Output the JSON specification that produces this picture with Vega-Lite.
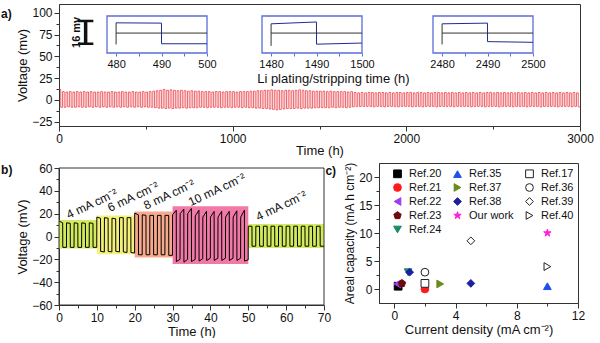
{
"$schema": "https://vega.github.io/schema/vega-lite/v6.json",
"padding": {"left": 0, "top": 3, "right": 0, "bottom": 0},
"background": "white",
"spacing": 3,
"resolve": {"scale": {"color": "independent", "shape": "independent", "fill": "independent", "stroke": "independent", "size": "independent"}, "legend": {"color": "independent", "shape": "independent", "fill": "independent", "stroke": "independent", "size": "independent"}},
"config": {
  "font": "Liberation Sans",
  "view": {"stroke": "#333", "strokeWidth": 1},
  "axis": {"grid": false, "labelFont": "Liberation Sans", "titleFont": "Liberation Sans", "labelFontSize": 12, "titleFontSize": 13, "titleFontWeight": "normal", "labelColor": "#111", "titleColor": "#111", "tickColor": "#333", "domainColor": "#333", "labelPadding": 2, "titlePadding": 2, "labelFlush": false, "format": "d"},
  "text": {"font": "Liberation Sans", "color": "#111"}
},
"vconcat": [
{
  "width": 521, "height": 122,
  "resolve": {"scale": {"x": "independent", "y": "independent"}, "axis": {"x": "independent", "y": "independent"}},
  "layer": [
    {
      "encoding": {
        "x": {"field": "t", "type": "quantitative", "scale": {"domain": [0, 3000], "nice": false, "zero": false},
              "axis": {"title": "Time (h)", "titlePadding": 0, "values": [0,500,1000,1500,2000,2500,3000], "labelExpr": "datum.value % 1000 === 0 ? datum.label : ''", "tickSize": {"condition": {"test": "datum.value % 1000 === 0", "value": 5}, "value": 3}}},
        "y": {"field": "v", "type": "quantitative", "scale": {"domain": [-30, 110], "nice": false, "zero": false},
              "axis": {"title": "Voltage (mv)", "values": [-25,-12.5,0,12.5,25,37.5,50,62.5,75,87.5,100], "labelExpr": "datum.value % 25 === 0 ? datum.label : ''", "tickSize": {"condition": {"test": "datum.value % 25 === 0", "value": 5}, "value": 3}}}
      },
      "layer": [
        {
          "data": {"values": [
{"t":0,"v":12},{"t":10,"v":-8.5},{"t":20,"v":9.5},{"t":30,"v":-8.5},{"t":40,"v":9},{"t":50,"v":-8},{"t":60,"v":9.5},{"t":70,"v":-8.5},{"t":80,"v":9},{"t":90,"v":-8.5},
{"t":100,"v":9.5},{"t":110,"v":-8},{"t":120,"v":9},{"t":130,"v":-8.5},{"t":140,"v":9.5},{"t":150,"v":-8.5},{"t":160,"v":9},{"t":170,"v":-8},{"t":180,"v":9.5},{"t":190,"v":-8.5},
{"t":200,"v":9},{"t":210,"v":-8},{"t":220,"v":9},{"t":230,"v":-8.5},{"t":240,"v":9.5},{"t":250,"v":-8},{"t":260,"v":9},{"t":270,"v":-8.5},{"t":280,"v":9},{"t":290,"v":-8},
{"t":300,"v":9.5},{"t":310,"v":-8.5},{"t":320,"v":9},{"t":330,"v":-8},{"t":340,"v":9},{"t":350,"v":-8.5},{"t":360,"v":9.5},{"t":370,"v":-8},{"t":380,"v":9},{"t":390,"v":-8.5},
{"t":400,"v":9},{"t":410,"v":-8},{"t":420,"v":9.5},{"t":430,"v":-8.5},{"t":440,"v":9},{"t":450,"v":-8},{"t":460,"v":9},{"t":470,"v":-8.5},{"t":480,"v":9.5},{"t":490,"v":-8},
{"t":500,"v":9},{"t":510,"v":-8.5},{"t":520,"v":9.5},{"t":530,"v":-8.5},{"t":540,"v":10},{"t":550,"v":-9},{"t":560,"v":10.5},{"t":570,"v":-9.5},{"t":580,"v":11},{"t":590,"v":-9.5},
{"t":600,"v":12},{"t":610,"v":-10},{"t":620,"v":11},{"t":630,"v":-9.5},{"t":640,"v":11.5},{"t":650,"v":-10},{"t":660,"v":11},{"t":670,"v":-9.5},{"t":680,"v":10.5},{"t":690,"v":-9.5},
{"t":700,"v":11},{"t":710,"v":-9},{"t":720,"v":10.5},{"t":730,"v":-9.5},{"t":740,"v":10},{"t":750,"v":-9},{"t":760,"v":10.5},{"t":770,"v":-9},{"t":780,"v":10},{"t":790,"v":-9},
{"t":800,"v":10},{"t":810,"v":-8.5},{"t":820,"v":9.5},{"t":830,"v":-8.5},{"t":840,"v":9.5},{"t":850,"v":-9},{"t":860,"v":9.5},{"t":870,"v":-8.5},{"t":880,"v":9},{"t":890,"v":-8.5},
{"t":900,"v":9.5},{"t":910,"v":-8.5},{"t":920,"v":9.5},{"t":930,"v":-9},{"t":940,"v":9},{"t":950,"v":-8.5},{"t":960,"v":9.5},{"t":970,"v":-8.5},{"t":980,"v":9.5},{"t":990,"v":-9},
{"t":1000,"v":9.5},{"t":1010,"v":-8.5},{"t":1020,"v":9},{"t":1030,"v":-8.5},{"t":1040,"v":9.5},{"t":1050,"v":-9},{"t":1060,"v":9.5},{"t":1070,"v":-8.5},{"t":1080,"v":9.5},{"t":1090,"v":-9},
{"t":1100,"v":10},{"t":1110,"v":-9},{"t":1120,"v":10},{"t":1130,"v":-9.5},{"t":1140,"v":10.5},{"t":1150,"v":-9.5},{"t":1160,"v":10.5},{"t":1170,"v":-10},{"t":1180,"v":11},{"t":1190,"v":-10},
{"t":1200,"v":11},{"t":1210,"v":-10.5},{"t":1220,"v":11.5},{"t":1230,"v":-11},{"t":1240,"v":11},{"t":1250,"v":-11.5},{"t":1260,"v":11},{"t":1270,"v":-11},{"t":1280,"v":10.5},{"t":1290,"v":-10.5},
{"t":1300,"v":11},{"t":1310,"v":-10},{"t":1320,"v":11},{"t":1330,"v":-10},{"t":1340,"v":10.5},{"t":1350,"v":-10},{"t":1360,"v":11},{"t":1370,"v":-9.5},{"t":1380,"v":11.5},{"t":1390,"v":-10},
{"t":1400,"v":11},{"t":1410,"v":-9.5},{"t":1420,"v":10.5},{"t":1430,"v":-9.5},{"t":1440,"v":10.5},{"t":1450,"v":-9.5},{"t":1460,"v":10},{"t":1470,"v":-9},{"t":1480,"v":10},{"t":1490,"v":-9},
{"t":1500,"v":10},{"t":1510,"v":-9},{"t":1520,"v":10},{"t":1530,"v":-9},{"t":1540,"v":9.5},{"t":1550,"v":-9},{"t":1560,"v":10},{"t":1570,"v":-8.5},{"t":1580,"v":9.5},{"t":1590,"v":-9},
{"t":1600,"v":9.5},{"t":1610,"v":-8.5},{"t":1620,"v":9.5},{"t":1630,"v":-8.5},{"t":1640,"v":9.5},{"t":1650,"v":-9},{"t":1660,"v":9},{"t":1670,"v":-8.5},{"t":1680,"v":9.5},{"t":1690,"v":-8},
{"t":1700,"v":8.5},{"t":1710,"v":-7.5},{"t":1720,"v":8},{"t":1730,"v":-7.5},{"t":1740,"v":8.5},{"t":1750,"v":-7.5},{"t":1760,"v":8},{"t":1770,"v":-7.5},{"t":1780,"v":8.5},{"t":1790,"v":-7.5},
{"t":1800,"v":8.5},{"t":1810,"v":-8},{"t":1820,"v":8},{"t":1830,"v":-7.5},{"t":1840,"v":8.5},{"t":1850,"v":-7.5},{"t":1860,"v":8.5},{"t":1870,"v":-8},{"t":1880,"v":8},{"t":1890,"v":-7.5},
{"t":1900,"v":8.5},{"t":1910,"v":-7.5},{"t":1920,"v":8},{"t":1930,"v":-7.5},{"t":1940,"v":8.5},{"t":1950,"v":-8},{"t":1960,"v":8.5},{"t":1970,"v":-7.5},{"t":1980,"v":8},{"t":1990,"v":-7.5},
{"t":2000,"v":8.5},{"t":2010,"v":-7.5},{"t":2020,"v":8.5},{"t":2030,"v":-8},{"t":2040,"v":8},{"t":2050,"v":-7.5},{"t":2060,"v":8.5},{"t":2070,"v":-7.5},{"t":2080,"v":8.5},{"t":2090,"v":-8},
{"t":2100,"v":8},{"t":2110,"v":-7.5},{"t":2120,"v":8.5},{"t":2130,"v":-7.5},{"t":2140,"v":8},{"t":2150,"v":-7.5},{"t":2160,"v":8.5},{"t":2170,"v":-8},{"t":2180,"v":8.5},{"t":2190,"v":-7.5},
{"t":2200,"v":8},{"t":2210,"v":-7.5},{"t":2220,"v":8.5},{"t":2230,"v":-7.5},{"t":2240,"v":8},{"t":2250,"v":-7.5},{"t":2260,"v":8.5},{"t":2270,"v":-8},{"t":2280,"v":8},{"t":2290,"v":-7.5},
{"t":2300,"v":8.5},{"t":2310,"v":-7.5},{"t":2320,"v":8},{"t":2330,"v":-7.5},{"t":2340,"v":8.5},{"t":2350,"v":-7.5},{"t":2360,"v":8},{"t":2370,"v":-8},{"t":2380,"v":8.5},{"t":2390,"v":-7.5},
{"t":2400,"v":8},{"t":2410,"v":-7.5},{"t":2420,"v":8.5},{"t":2430,"v":-7.5},{"t":2440,"v":8},{"t":2450,"v":-8},{"t":2460,"v":8.5},{"t":2470,"v":-7.5},{"t":2480,"v":8.5},{"t":2490,"v":-7.5},
{"t":2500,"v":8},{"t":2510,"v":-7.5},{"t":2520,"v":8.5},{"t":2530,"v":-8},{"t":2540,"v":8},{"t":2550,"v":-7.5},{"t":2560,"v":8.5},{"t":2570,"v":-7.5},{"t":2580,"v":8},{"t":2590,"v":-7.5},
{"t":2600,"v":8.5},{"t":2610,"v":-8},{"t":2620,"v":8},{"t":2630,"v":-7.5},{"t":2640,"v":8.5},{"t":2650,"v":-7.5},{"t":2660,"v":8},{"t":2670,"v":-7.5},{"t":2680,"v":8.5},{"t":2690,"v":-8},
{"t":2700,"v":8},{"t":2710,"v":-7.5},{"t":2720,"v":8.5},{"t":2730,"v":-7.5},{"t":2740,"v":8},{"t":2750,"v":-7.5},{"t":2760,"v":8.5},{"t":2770,"v":-8},{"t":2780,"v":8},{"t":2790,"v":-7.5},
{"t":2800,"v":8.5},{"t":2810,"v":-7.5},{"t":2820,"v":8},{"t":2830,"v":-7.5},{"t":2840,"v":8.5},{"t":2850,"v":-7.5},{"t":2860,"v":8},{"t":2870,"v":-8},{"t":2880,"v":8.5},{"t":2890,"v":-7.5},
{"t":2900,"v":8},{"t":2910,"v":-7.5},{"t":2920,"v":8.5},{"t":2930,"v":-7.5},{"t":2940,"v":8},{"t":2950,"v":-8},{"t":2960,"v":8.5},{"t":2970,"v":-7.5},{"t":2980,"v":8},{"t":2990,"v":-8},
{"t":3000,"v":-8}
          ]},
          "mark": {"type": "line", "interpolate": "step-after", "stroke": "#e8202a", "strokeWidth": 0.8, "opacity": 0.85}
        },
        {
          "data": {"values": [{"t": -334, "v": 98, "label": "a)"}]},
          "mark": {"type": "text", "align": "left", "baseline": "middle", "fontSize": 12, "fontWeight": "bold"},
          "encoding": {"text": {"field": "label"}}
        },
        {
          "data": {"values": [{"t": 1580, "v": 23.6, "label": "Li plating/stripping time (h)"}]},
          "mark": {"type": "text", "align": "center", "baseline": "middle", "fontSize": 13},
          "encoding": {"text": {"field": "label"}}
        }
      ]
    },
    {
      "encoding": {
        "x": {"field": "t", "type": "quantitative", "scale": {"domain": [478, 500], "range": [48, 148], "nice": false, "zero": false},
              "axis": {"orient": "bottom", "offset": -73, "title": null, "values": [480,485,490,495,500], "labelExpr": "datum.value % 10 === 0 ? datum.label : ''", "domain": false, "tickColor": "#5a6ed8", "tickSize": 3, "labelFontSize": 11, "labelPadding": 2}},
        "y": {"field": "v", "type": "quantitative", "scale": {"domain": [-14, 12], "range": [49, 12], "nice": false, "zero": false}, "axis": null}
      },
      "layer": [
        {"data": {"values": [{"t": 478, "t2": 500, "v": -14, "v2": 12}]}, "mark": {"type": "rect", "fill": "white", "stroke": "#5a6ed8", "strokeWidth": 1.3}, "encoding": {"x2": {"field": "t2"}, "y2": {"field": "v2"}}},
        {"data": {"values": [{"t": 480, "v": 0, "g": "h"}, {"t": 500, "v": 0, "g": "h"}, {"t": 480, "v": -8, "g": "v"}, {"t": 480, "v": 7.2, "g": "v"}]}, "mark": {"type": "line", "stroke": "#333", "strokeWidth": 1}, "encoding": {"detail": {"field": "g"}}},
        {"data": {"values": [{"t": 480, "v": 7.2}, {"t": 489.98, "v": 7}, {"t": 490, "v": -7.5}, {"t": 500, "v": -7.5}]}, "mark": {"type": "line", "stroke": "#1f2c8f", "strokeWidth": 1}},
        {"data": {"values": [{"t": 473.3, "v": -7.5}, {"t": 473.3, "v": 8.5}]}, "mark": {"type": "line", "stroke": "#111", "strokeWidth": 3.5}},
        {"data": {"values": [{"t": 471.6, "v": 8.5, "g": "c1"}, {"t": 475, "v": 8.5, "g": "c1"}, {"t": 471.6, "v": -7.5, "g": "c2"}, {"t": 475, "v": -7.5, "g": "c2"}]}, "mark": {"type": "line", "stroke": "#111", "strokeWidth": 2.5}, "encoding": {"detail": {"field": "g"}}},
        {"data": {"values": [{"t": 471.3, "v": 0.5, "label": "16 mv"}]}, "mark": {"type": "text", "angle": 270, "align": "center", "baseline": "middle", "fontSize": 11, "fontWeight": "bold"}, "encoding": {"text": {"field": "label"}}}
      ]
    },
    {
      "encoding": {
        "x": {"field": "t", "type": "quantitative", "scale": {"domain": [1478, 1500], "range": [203, 303], "nice": false, "zero": false},
              "axis": {"orient": "bottom", "offset": -73, "title": null, "values": [1480,1485,1490,1495,1500], "labelExpr": "datum.value % 10 === 0 ? datum.label : ''", "domain": false, "tickColor": "#5a6ed8", "tickSize": 3, "labelFontSize": 11, "labelPadding": 2}},
        "y": {"field": "v", "type": "quantitative", "scale": {"domain": [-14, 12], "range": [49, 12], "nice": false, "zero": false}, "axis": null}
      },
      "layer": [
        {"data": {"values": [{"t": 1478, "t2": 1500, "v": -14, "v2": 12}]}, "mark": {"type": "rect", "fill": "white", "stroke": "#5a6ed8", "strokeWidth": 1.3}, "encoding": {"x2": {"field": "t2"}, "y2": {"field": "v2"}}},
        {"data": {"values": [{"t": 1480, "v": 0, "g": "h"}, {"t": 1500, "v": 0, "g": "h"}, {"t": 1480, "v": -9, "g": "v"}, {"t": 1480, "v": 6.5, "g": "v"}]}, "mark": {"type": "line", "stroke": "#333", "strokeWidth": 1}, "encoding": {"detail": {"field": "g"}}},
        {"data": {"values": [{"t": 1480, "v": 6.5}, {"t": 1489.98, "v": 7.8}, {"t": 1490, "v": -7.8}, {"t": 1500, "v": -7}]}, "mark": {"type": "line", "stroke": "#1f2c8f", "strokeWidth": 1}}
      ]
    },
    {
      "encoding": {
        "x": {"field": "t", "type": "quantitative", "scale": {"domain": [2478, 2500], "range": [374, 474], "nice": false, "zero": false},
              "axis": {"orient": "bottom", "offset": -73, "title": null, "values": [2480,2485,2490,2495,2500], "labelExpr": "datum.value % 10 === 0 ? datum.label : ''", "domain": false, "tickColor": "#5a6ed8", "tickSize": 3, "labelFontSize": 11, "labelPadding": 2}},
        "y": {"field": "v", "type": "quantitative", "scale": {"domain": [-14, 12], "range": [49, 12], "nice": false, "zero": false}, "axis": null}
      },
      "layer": [
        {"data": {"values": [{"t": 2478, "t2": 2500, "v": -14, "v2": 12}]}, "mark": {"type": "rect", "fill": "white", "stroke": "#5a6ed8", "strokeWidth": 1.3}, "encoding": {"x2": {"field": "t2"}, "y2": {"field": "v2"}}},
        {"data": {"values": [{"t": 2480, "v": 0, "g": "h"}, {"t": 2500, "v": 0, "g": "h"}, {"t": 2480, "v": -8, "g": "v"}, {"t": 2480, "v": 6.5, "g": "v"}]}, "mark": {"type": "line", "stroke": "#333", "strokeWidth": 1}, "encoding": {"detail": {"field": "g"}}},
        {"data": {"values": [{"t": 2480, "v": 6.5}, {"t": 2489.98, "v": 7}, {"t": 2490, "v": -6}, {"t": 2500, "v": -6.5}]}, "mark": {"type": "line", "stroke": "#1f2c8f", "strokeWidth": 1}}
      ]
    }
  ]
},
{
  "spacing": -7,
  "align": "none",
  "resolve": {"scale": {"color": "independent", "shape": "independent", "fill": "independent", "stroke": "independent", "size": "independent"}, "legend": {"color": "independent", "shape": "independent", "fill": "independent", "stroke": "independent", "size": "independent"}},
  "hconcat": [
    {
      "width": 265, "height": 142,
      "view": {"stroke": null},
      "encoding": {
        "x": {"field": "t", "type": "quantitative", "scale": {"domain": [0, 70], "nice": false, "zero": false},
              "axis": {"title": "Time (h)", "titlePadding": 2, "values": [0,5,10,15,20,25,30,35,40,45,50,55,60,65,70], "labelExpr": "datum.value % 10 === 0 ? datum.label : ''", "tickSize": {"condition": {"test": "datum.value % 10 === 0", "value": 5}, "value": 3}}},
        "y": {"field": "v", "type": "quantitative", "scale": {"domain": [-60, 60], "range": [142, 5], "nice": false, "zero": false},
              "axis": {"title": "Voltage (mV)", "values": [-60,-50,-40,-30,-20,-10,0,10,20,30,40,50,60], "labelExpr": "datum.value % 20 === 0 ? datum.label : ''", "tickSize": {"condition": {"test": "datum.value % 20 === 0", "value": 5}, "value": 3}}}
      },
      "layer": [
        {
          "data": {"values": [
            {"t": 0, "t2": 10, "v": -10.5, "v2": 14.5, "cd": "4"},
            {"t": 10, "t2": 20, "v": -15.5, "v2": 18.5, "cd": "6"},
            {"t": 20, "t2": 30, "v": -18.5, "v2": 22, "cd": "8"},
            {"t": 30, "t2": 50, "v": -24, "v2": 26.5, "cd": "10"},
            {"t": 50, "t2": 70, "v": -10, "v2": 11, "cd": "4"}
          ]},
          "mark": {"type": "rect", "opacity": 0.9},
          "encoding": {"x2": {"field": "t2"}, "y2": {"field": "v2"},
            "color": {"field": "cd", "type": "nominal", "scale": {"domain": ["4","6","8","10"], "range": ["#cde84c","#f2ee6e","#f5a080","#ef6a9c"]}, "legend": null}}
        },
        {
          "data": {"values": [
{"t":0,"v":13.5},{"t":0.97,"v":12},{"t":1,"v":-9.5},{"t":1.97,"v":-9.5},{"t":2,"v":12},{"t":2.97,"v":11.5},{"t":3,"v":-9.5},{"t":3.97,"v":-9.5},{"t":4,"v":12},{"t":4.97,"v":11.5},
{"t":5,"v":-9.5},{"t":5.97,"v":-9.5},{"t":6,"v":12},{"t":6.97,"v":11.5},{"t":7,"v":-9.5},{"t":7.97,"v":-9.5},{"t":8,"v":12},{"t":8.97,"v":11.5},{"t":9,"v":-9.5},{"t":9.97,"v":-9.5},
{"t":10,"v":17},{"t":10.97,"v":16},{"t":11,"v":-13},{"t":11.97,"v":-13.5},{"t":12,"v":16.5},{"t":12.97,"v":16},{"t":13,"v":-13},{"t":13.97,"v":-13.5},{"t":14,"v":16},{"t":14.97,"v":15.5},
{"t":15,"v":-13},{"t":15.97,"v":-13.5},{"t":16,"v":16.5},{"t":16.97,"v":16.5},{"t":17,"v":-13.5},{"t":17.97,"v":-14},{"t":18,"v":16.5},{"t":18.97,"v":16.5},{"t":19,"v":-14},{"t":19.97,"v":-14.5},
{"t":20,"v":20.5},{"t":20.97,"v":19},{"t":21,"v":-16},{"t":21.97,"v":-16},{"t":22,"v":19},{"t":22.97,"v":18.5},{"t":23,"v":-16},{"t":23.97,"v":-16},{"t":24,"v":18.5},{"t":24.97,"v":18.5},
{"t":25,"v":-16},{"t":25.97,"v":-16},{"t":26,"v":18.5},{"t":26.97,"v":18.5},{"t":27,"v":-16},{"t":27.97,"v":-16},{"t":28,"v":18.5},{"t":28.97,"v":18.5},{"t":29,"v":-16.5},{"t":29.97,"v":-16.5},
{"t":30,"v":19},{"t":30.97,"v":23},{"t":31,"v":-22},{"t":31.97,"v":-20},{"t":32,"v":20},{"t":32.97,"v":24},{"t":33,"v":-22.5},{"t":33.97,"v":-20},{"t":34,"v":20},{"t":34.97,"v":24.5},
{"t":35,"v":-22},{"t":35.97,"v":-20},{"t":36,"v":18},{"t":36.97,"v":23},{"t":37,"v":-21.5},{"t":37.97,"v":-19.5},{"t":38,"v":17},{"t":38.97,"v":22},{"t":39,"v":-21},{"t":39.97,"v":-19},
{"t":40,"v":17},{"t":40.97,"v":22},{"t":41,"v":-21},{"t":41.97,"v":-19},{"t":42,"v":17},{"t":42.97,"v":22},{"t":43,"v":-21},{"t":43.97,"v":-19},{"t":44,"v":17},{"t":44.97,"v":22},
{"t":45,"v":-21},{"t":45.97,"v":-19},{"t":46,"v":17},{"t":46.97,"v":22.5},{"t":47,"v":-21},{"t":47.97,"v":-19},{"t":48,"v":17},{"t":48.97,"v":23},{"t":49,"v":-21.5},{"t":49.97,"v":-20.5},
{"t":50,"v":9},{"t":50.97,"v":9},{"t":51,"v":-8.5},{"t":51.97,"v":-8.5},{"t":52,"v":9},{"t":52.97,"v":9},{"t":53,"v":-8.5},{"t":53.97,"v":-8.5},{"t":54,"v":9},{"t":54.97,"v":9},
{"t":55,"v":-8.5},{"t":55.97,"v":-8.5},{"t":56,"v":9},{"t":56.97,"v":9},{"t":57,"v":-8.5},{"t":57.97,"v":-8.5},{"t":58,"v":9},{"t":58.97,"v":9},{"t":59,"v":-8.5},{"t":59.97,"v":-8.5},
{"t":60,"v":9},{"t":60.97,"v":9},{"t":61,"v":-8.5},{"t":61.97,"v":-8.5},{"t":62,"v":9},{"t":62.97,"v":9},{"t":63,"v":-8.5},{"t":63.97,"v":-8.5},{"t":64,"v":9},{"t":64.97,"v":9},
{"t":65,"v":-8.5},{"t":65.97,"v":-8.5},{"t":66,"v":9},{"t":66.97,"v":9},{"t":67,"v":-8.5},{"t":67.97,"v":-8.5},{"t":68,"v":9},{"t":68.97,"v":9},{"t":69,"v":-8.5},{"t":70,"v":-8.5}
          ]},
          "mark": {"type": "line", "stroke": "#000", "strokeWidth": 1}
        },
        {
          "data": {"values": [
            {"t": 2.6, "v": 15.3, "label": "4 mA cm⁻²"},
            {"t": 13.5, "v": 21.5, "label": "6 mA cm⁻²"},
            {"t": 23, "v": 23.5, "label": "8 mA cm⁻²"},
            {"t": 34.8, "v": 26.4, "label": "10 mA cm⁻²"},
            {"t": 52.6, "v": 13.6, "label": "4 mA cm⁻²"}
          ]},
          "mark": {"type": "text", "align": "left", "baseline": "alphabetic", "angle": 335, "fontSize": 12},
          "encoding": {"text": {"field": "label"}}
        },
        {
          "data": {"values": [{"t": -15.3, "v": 58, "label": "b)"}]},
          "mark": {"type": "text", "align": "left", "baseline": "middle", "fontSize": 12, "fontWeight": "bold"},
          "encoding": {"text": {"field": "label"}}
        },
        {
          "data": {"values": [{"t": 0, "t2": 70, "v": -60, "v2": 60}]},
          "mark": {"type": "rect", "fill": null, "fillOpacity": 0, "stroke": "#333", "strokeWidth": 1},
          "encoding": {"x2": {"field": "t2"}, "y2": {"field": "v2"}}
        }
      ]
    },
    {
      "width": 199, "height": 140,
      "encoding": {
        "x": {"field": "cd", "type": "quantitative", "scale": {"domain": [-1, 12], "nice": false, "zero": false},
              "axis": {"title": "Current density (mA cm⁻²)", "titlePadding": 2, "values": [0,2,4,6,8,10,12], "labelExpr": "datum.value % 4 === 0 ? datum.label : ''", "tickSize": {"condition": {"test": "datum.value % 4 === 0", "value": 5}, "value": 3}}},
        "y": {"field": "cap", "type": "quantitative", "scale": {"domain": [-2.5, 22.5], "nice": false, "zero": false},
              "axis": {"title": "Areal capacity (mA h cm⁻²)", "titleFontSize": 12, "values": [0,2.5,5,7.5,10,12.5,15,17.5,20], "labelExpr": "datum.value % 5 === 0 ? datum.label : ''", "tickSize": {"condition": {"test": "datum.value % 5 === 0", "value": 5}, "value": 3}}}
      },
      "layer": [
        {
          "data": {"values": [
            {"ref": "Ref.24", "cd": 0.9, "cap": 3},
            {"ref": "Ref.20", "cd": 0.25, "cap": 0.5},
            {"ref": "Ref.21", "cd": 2, "cap": 0},
            {"ref": "Ref.22", "cd": 0.2, "cap": 0.9},
            {"ref": "Ref.23", "cd": 0.5, "cap": 1},
            {"ref": "Ref.35", "cd": 10, "cap": 0.5},
            {"ref": "Ref.37", "cd": 3, "cap": 0.9},
            {"ref": "Ref.38", "cd": 1, "cap": 3},
            {"ref": "Ref.38", "cd": 5, "cap": 1},
            {"ref": "Our work", "cd": 10, "cap": 10},
            {"ref": "Ref.17", "cd": 2, "cap": 1},
            {"ref": "Ref.36", "cd": 2, "cap": 3},
            {"ref": "Ref.39", "cd": 5, "cap": 8.6},
            {"ref": "Ref.40", "cd": 10, "cap": 4}
          ]},
          "mark": {"type": "point", "opacity": 1, "fillOpacity": 1, "strokeWidth": 1},
          "encoding": {
            "shape": {"field": "ref", "type": "nominal", "scale": {"domain": ["Ref.20","Ref.35","Ref.17","Ref.21","Ref.37","Ref.36","Ref.22","Ref.38","Ref.39","Ref.23","Our work","Ref.40","Ref.24"],
              "range": ["square","triangle-up","square","circle","triangle-right","circle","triangle-left","diamond","diamond","M0,-1L0.951,-0.309L0.588,0.809L-0.588,0.809L-0.951,-0.309Z","M0,-1L0.2245,-0.309L0.951,-0.309L0.363,0.118L0.588,0.809L0,0.382L-0.588,0.809L-0.363,0.118L-0.951,-0.309L-0.2245,-0.309Z","triangle-right","triangle-down"]},
              "legend": {"orient": "none", "direction": "horizontal", "legendX": 13, "legendY": 5, "columns": 3, "title": null, "labelFontSize": 11, "labelFont": "Liberation Sans", "labelColor": "#111", "rowPadding": 1, "columnPadding": 9, "gridAlign": "each", "labelOffset": 6, "padding": 0, "symbolStrokeWidth": 1}},
            "fill": {"field": "ref", "type": "nominal", "scale": {"domain": ["Ref.20","Ref.35","Ref.17","Ref.21","Ref.37","Ref.36","Ref.22","Ref.38","Ref.39","Ref.23","Our work","Ref.40","Ref.24"],
              "range": ["#000000","#2050e8","#ffffff","#ff1a1a","#6b8a1c","#ffffff","#9a3ff0","#1a20a0","#ffffff","#6e0a0a","#ff20dc","#ffffff","#1a8a6a"]}},
            "stroke": {"field": "ref", "type": "nominal", "scale": {"domain": ["Ref.20","Ref.35","Ref.17","Ref.21","Ref.37","Ref.36","Ref.22","Ref.38","Ref.39","Ref.23","Our work","Ref.40","Ref.24"],
              "range": ["#000000","#2050e8","#222222","#ff1a1a","#6b8a1c","#222222","#9a3ff0","#1a20a0","#222222","#6e0a0a","#ff20dc","#222222","#1a8a6a"]}},
            "size": {"field": "ref", "type": "nominal", "scale": {"domain": ["Ref.20","Ref.35","Ref.17","Ref.21","Ref.37","Ref.36","Ref.22","Ref.38","Ref.39","Ref.23","Our work","Ref.40","Ref.24"],
              "range": [60,60,40,60,60,40,60,60,40,70,150,40,60]}}
          }
        },
        {
          "data": {"values": [{"cd": -4.5, "cap": 21.1, "label": "c)"}]},
          "mark": {"type": "text", "align": "left", "baseline": "middle", "fontSize": 12, "fontWeight": "bold"},
          "encoding": {"text": {"field": "label"}}
        }
      ]
    }
  ]
}
]
}
